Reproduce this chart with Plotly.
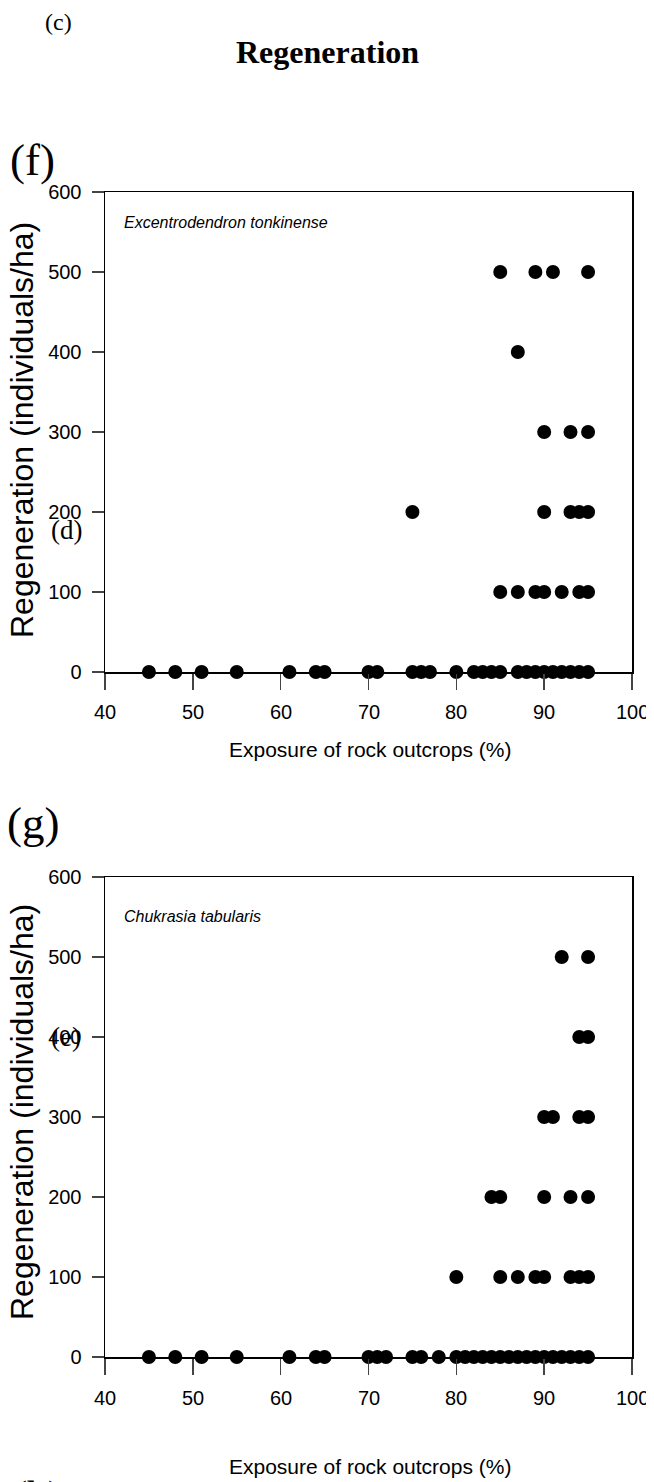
import plotly.graph_objects as go

# ---------------- data ----------------
# Panel (f): Excentrodendron tonkinense
f_x = [45, 48, 51, 55, 61, 64, 65, 70, 71, 75, 76, 77, 80, 82, 83, 84, 85, 87, 88, 89, 90, 91, 92, 93, 94, 95,
       85, 87, 89, 90, 92, 94, 95,
       75, 90, 93, 94, 95,
       90, 93, 95,
       87,
       85, 89, 91, 95]
f_y = [0] * 26 + [100] * 7 + [200] * 5 + [300] * 3 + [400] * 1 + [500] * 4

# Panel (g): Chukrasia tabularis
g_x = [45, 48, 51, 55, 61, 64, 65, 70, 71, 72, 75, 76, 78,
       80, 81, 82, 83, 84, 85, 86, 87, 88, 89, 90, 91, 92, 93, 94, 95,
       80, 85, 87, 89, 90, 93, 94, 95,
       84, 85, 90, 93, 95,
       90, 91, 94, 95,
       94, 95,
       92, 95]
g_y = [0] * 29 + [100] * 8 + [200] * 5 + [300] * 4 + [400] * 2 + [500] * 2

x_ticks = [40, 50, 60, 70, 80, 90, 100]
y_ticks = [0, 100, 200, 300, 400, 500, 600]

species_f = "Excentrodendron tonkinense"
species_g = "Chukrasia tabularis"
y_title = "Regeneration (individuals/ha)"
x_title = "Exposure of rock outcrops (%)"

# ---------------- layout ----------------
W, H = 654, 1482
OFF = 8  # the page body has a default 8px margin; place items in page pixels

def px(p):
    return (p - OFF) / W

def py(p):
    return 1 - (p - OFF) / H

fig = go.Figure()
marker = dict(color="black", size=14, symbol="circle", line=dict(width=0))
fig.add_trace(go.Scatter(x=f_x, y=f_y, mode="markers", marker=marker, cliponaxis=False,
                         xaxis="x", yaxis="y", showlegend=False, hoverinfo="skip"))
fig.add_trace(go.Scatter(x=g_x, y=g_y, mode="markers", marker=marker, cliponaxis=False,
                         xaxis="x2", yaxis="y2", showlegend=False, hoverinfo="skip"))

sans = "Liberation Sans, Arial, sans-serif"
serif = "Liberation Serif, Times New Roman, serif"

tickfont = dict(family=sans, size=20, color="black")
xcommon = dict(range=[40, 100], tickmode="array", tickvals=x_ticks, showticklabels=False,
               ticks="outside", ticklen=16, tickwidth=1.5,
               showline=True, linewidth=1.5, linecolor="black", mirror=True, showgrid=False,
               zeroline=False, domain=[px(105), px(632)], automargin=False)
ycommon = dict(range=[0, 600], tickmode="array", tickvals=y_ticks, ticktext=[str(v) for v in y_ticks],
               ticks="outside", ticklen=12, tickwidth=1.5, ticklabelstandoff=6,
               showline=True, linewidth=1.5, linecolor="black", mirror=True, showgrid=False,
               zeroline=False, tickfont=tickfont, automargin=False, ticklabeloverflow="allow")

fig.update_layout(
    width=W, height=H, margin=dict(l=0, r=0, t=0, b=0, autoexpand=False),
    paper_bgcolor="white", plot_bgcolor="white", hovermode=False,
    xaxis=dict(**xcommon, anchor="y"),
    yaxis=dict(**ycommon, anchor="x", domain=[py(672), py(192)]),
    xaxis2=dict(**xcommon, anchor="y2"),
    yaxis2=dict(**ycommon, anchor="x2", domain=[py(1357), py(877)]),
)

# x tick labels, placed on the x scale of each panel
for xref, ypos in (("x", 712), ("x2", 1398)):
    for v in x_ticks:
        fig.add_annotation(text=str(v), x=v, xref=xref, y=py(ypos), yref="paper",
                           xanchor="center", yanchor="middle", showarrow=False,
                           font=tickfont)

def ann(text, x, y, size, family, xanchor="center", **kw):
    fig.add_annotation(text=text, x=px(x), y=py(y), xref="paper", yref="paper",
                       xanchor=xanchor, yanchor="middle",
                       showarrow=False, font=dict(size=size, family=family, color="black"), **kw)

ann("(c)", 58, 22, 24, serif)
ann("<b>Regeneration</b>", 327, 52, 32, serif)
ann("(f)", 32, 160, 45, serif)
ann("(g)", 33, 823, 45, serif)
ann("(d)", 66, 530, 27, serif)
ann("(e)", 66, 1037, 27, serif)
ann("(h)", 37, 1496, 42, serif)

ann("<i>" + species_f + "</i>", 122, 222, 16, sans, xanchor="left")
ann("<i>" + species_g + "</i>", 122, 917, 16, sans, xanchor="left")

ann(x_title, 370, 750, 21, sans)
ann(x_title, 370, 1466, 21, sans)
ann(y_title, 22, 430, 32, sans, textangle=-90)
ann(y_title, 22, 1112, 32, sans, textangle=-90)

fig.write_html("out.html", config={"displayModeBar": False, "staticPlot": True})
